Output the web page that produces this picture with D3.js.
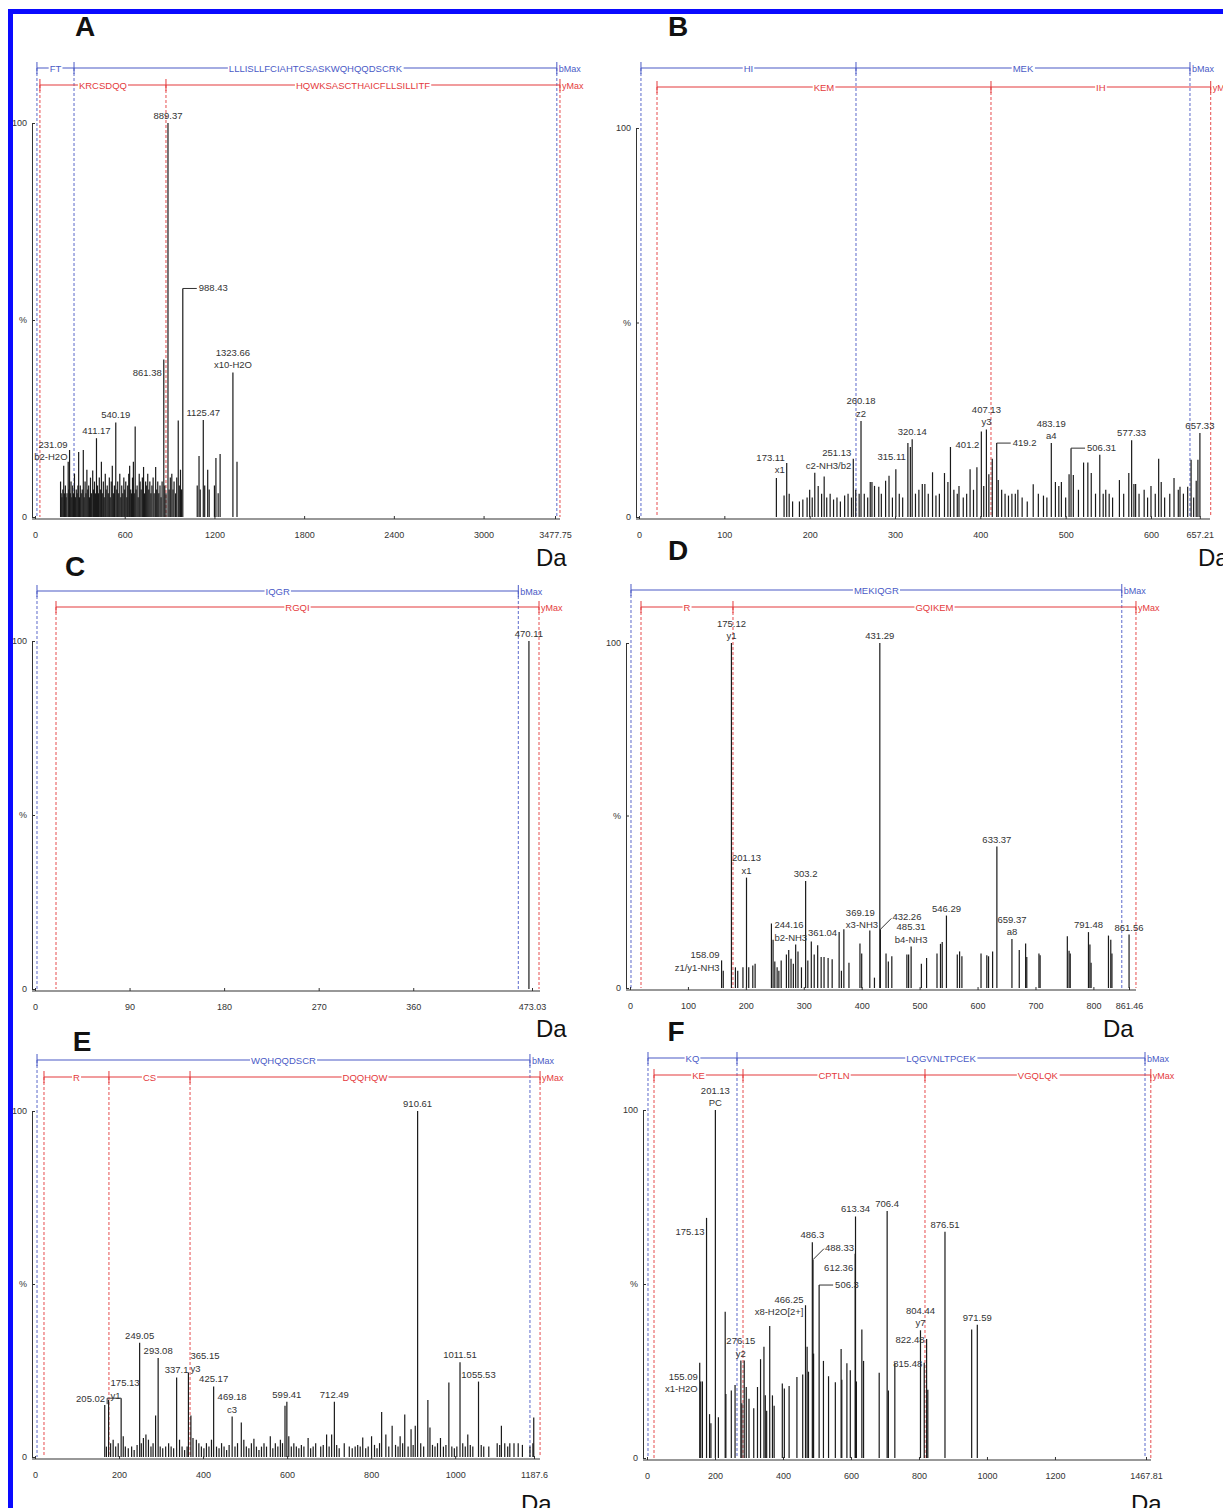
<!DOCTYPE html>
<html>
<head>
<meta charset="utf-8">
<script src="https://cdn.jsdelivr.net/npm/d3@7"></script>
<style>
  body { margin: 0; background: #fff; }
  svg { display: block; font-family: "Liberation Sans", Arial, sans-serif; }
</style>
</head>
<body>
<div id="chart"></div>
<script>
// ---------- data: panel A ----------
const maxA = 3477.75;
const ticksA = [0, 600, 1200, 1800, 2400, 3000, 3477.75];
const bSeqA = [13, 261, 3490];
const bNamesA = ["FT", "LLLISLLFCIAHTCSASKWQHQQDSCRK"];
const ySeqA = [33, 876, 3511];
const yNamesA = ["KRCSDQQ", "HQWKSASCTHAICFLLSILLITF"];
const peaksA = [
  [171,9],[175,6],[180,5],[186,7],[192,13],[197,6],[203,8],[208,5],[214,6],[222,14],[226,7],[231.09,17],
  [236,6],[241,9],[246,5],[252,8],[258,6],[264,11],[270,5],[276,7],[282,6],[287,8],[292,16.5],[297,5],
  [303,8],[309,6],[316,7],[323,17],[329,5],[335,9],[341,6],[347,12],[353,7],[359,8],[365,5],[371,10],
  [377,6],[386,11.8],[392,7],[398,9],[404,6],[411.17,20],[418,8],[424,6],[430,10],[437,7],[444,14],[450,6],
  [457,9],[463,5],[470,11],[476,7],[483,8],[490,6],[497,10],[503,5],[510,9],[517,13],[524,6],[531,8],
  [540.19,24],[547,7],[553,9],[560,6],[567,11],[574,5],[580,8],[587,6],[594,10],[600,7],[607,9],[614,5],
  [620,8],[627,11],[633,13],[640,7],[646,6],[652,10],[658,14],[664,6],[670,23],[676,7],[683,8],[690,5],
  [697,11],[703,9],[710,7],[718,10],[726,12.7],[733,6],[740,9],[747,8],[754,11],[761,7],[768,9],[775,6],
  [782,8],[790,10],[797,6],[807,12.7],[814,7],[821,9],[828,6],[836,8],[843,5],[850,9],[861.38,40],[868,8],
  [876,6],[889.37,100],[897,7],[905,10],[915,11],[923,7],[930,9],[940,6],[948,10],[958,24.5],[965,8],[973,12],
  [980,7],[988.43,58],[1085,8],[1097,15.5],[1105,7],[1125.47,24.6],[1135,8],[1155,12],[1165,7],[1200,8],
  [1210,15],[1225,6],[1238,16],[1323.66,36.7],[1351,14]
];
const annA = [
  { m: 889.37, t: ["889.37"], at: "top" },
  { m: 988.43, t: ["988.43"], at: "leader" },
  { m: 861.38, t: ["861.38"], at: "leftLow" },
  { m: 1323.66, t: ["1323.66", "x10-H2O"], at: "top" },
  { m: 1125.47, t: ["1125.47"], at: "top" },
  { m: 540.19, t: ["540.19"], at: "top" },
  { m: 411.17, t: ["411.17"], at: "top" },
  { m: 231.09, t: ["231.09", "b2-H2O"], at: "left" }
];

// ---------- data: panel B ----------
const maxB = 657.21;
const ticksB = [0, 100, 200, 300, 400, 500, 600, 657.21];
const bSeqB = [2.3, 254.3, 645.7];
const bNamesB = ["HI", "MEK"];
const ySeqB = [21.1, 412.5, 670];
const yNamesB = ["KEM", "IH"];
const peaksB = [
  [161,10],[170,5.5],[173.11,13.9],[176,6],[180,4],[188,4],[192,4.5],[197,5],[200,7],[203,5],[206,11.4],[210,8],
  [214,6],[217,10.4],[220,5],[224,6],[228,4.5],[232,5],[236,4],[241,5.5],[245,6],[249,5],[251.13,15],[254,7],
  [258,6],[260.18,24.7],[264,6],[268,5],[271,9],[273,9],[276,8],[281,7.8],[284,6],[289,9.3],[293,10.6],[297,5],
  [301,12.3],[305,6],[309,5],[315.11,19],[318,18],[320.14,20],[324,6],[328,7],[332,8.5],[335,8.5],[339,6],
  [344,11.5],[348,5.5],[352,6],[358,11.3],[362,9],[365,18],[369,7],[373,6],[375,8],[380,5],[384,6],[388,12.3],
  [392,7],[396,12.8],[401.2,22],[404,8],[407.13,22.5],[410,11],[414,15],[419.2,19],[421,9.5],[425,7],[429,6],
  [433,5.5],[437,6],[441,6],[444,7],[449,5],[455,4],[462,8.4],[468,6],[474,5.5],[478,5],[483.19,19],[488,9],
  [492,8],[495,9],[500,5],[504,11],[506.31,17.7],[509,10.8],[515,7],[521,14],[526,14],[530,11.3],[535,6],
  [540,16],[544,6],[547,7],[551,6],[555,5],[563,9.5],[568,6],[574,11.3],[577.33,19.7],[580,8.5],[582,8.5],
  [586,6],[592,7],[596,5],[600,8],[605,6],[609,15],[612,9],[616,5],[622,6],[627,10],[632,7],[634,7.8],
  [638,6],[643,7.8],[647,14.7],[650,5],[653,9.3],[655,14.7],[657.33,21.6]
];
const annB = [
  { m: 173.11, t: ["173.11", "x1"], at: "left" },
  { m: 251.13, t: ["251.13", "c2-NH3/b2"], at: "left" },
  { m: 260.18, t: ["260.18", "z2"], at: "top" },
  { m: 315.11, t: ["315.11"], at: "leftLow" },
  { m: 320.14, t: ["320.14"], at: "top" },
  { m: 401.2, t: ["401.2"], at: "leftLow" },
  { m: 407.13, t: ["407.13", "y3"], at: "top" },
  { m: 419.2, t: ["419.2"], at: "leader" },
  { m: 483.19, t: ["483.19", "a4"], at: "top" },
  { m: 506.31, t: ["506.31"], at: "leader" },
  { m: 577.33, t: ["577.33"], at: "top" },
  { m: 657.33, t: ["657.33"], at: "top" }
];

// ---------- data: panel C ----------
const maxC = 473.03;
const ticksC = [0, 90, 180, 270, 360, 473.03];
const bSeqC = [1.9, 460];
const bNamesC = ["IQGR"];
const ySeqC = [20, 479.7];
const yNamesC = ["RGQI"];
const peaksC = [[470.11, 100]];
const annC = [{ m: 470.11, t: ["470.11"], at: "top" }];

// ---------- data: panel D ----------
const maxD = 861.46;
const ticksD = [0, 100, 200, 300, 400, 500, 600, 700, 800, 861.46];
const bSeqD = [1.7, 849];
const bNamesD = ["MEKIQGR"];
const ySeqD = [19, 177.8, 873.5];
const yNamesD = ["R", "GQIKEM"];
const peaksD = [
  [158.09,8],[161,5],[175.12,100],[182,6],[186,5],[195,6],[201.13,32],[205,6],[212,6.5],[216,7],[244.16,18.7],
  [247,14],[250,7.7],[254,6],[257,5],[261,8],[270,9.7],[274,11],[278,8.5],[282,7],[286,12.6],[290,10.6],
  [296,6],[303.2,31],[307,8],[313,13.5],[318,9.7],[324,12.4],[330,9],[335,9],[342,8.7],[349,8.3],
  [361.04,16.2],[365,5],[369.19,17],[378,7.3],[397,12.9],[400,10],[414,16.7],[422,3],[431.29,100],
  [432.26,17],[442,10],[446,7.7],[452,9.2],[478,9.7],[481,9.7],[485.31,12],[503,7],[512,8.7],[530,10],
  [536,12.8],[539,13.3],[546.29,21],[565,9.7],[569,10.6],[573,9.2],[606,10],[616,9.5],[619,9.2],[626,10.6],
  [633.37,41],[659.37,14.2],[672,11],[683,12.9],[685,9],[706,10],[708,9.5],[755,15],[758,10.8],[760,10],
  [791.48,16.2],[794,12.6],[796,7.3],[826,15.2],[830,14],[832,10],[861.56,15.5]
];
const annD = [
  { m: 158.09, t: ["158.09", "z1/y1-NH3"], at: "left" },
  { m: 175.12, t: ["175.12", "y1"], at: "top" },
  { m: 201.13, t: ["201.13", "x1"], at: "top" },
  { m: 244.16, t: ["244.16", "b2-NH3"], at: "right" },
  { m: 303.2, t: ["303.2"], at: "top" },
  { m: 361.04, t: ["361.04"], at: "left" },
  { m: 369.19, t: ["369.19", "x3-NH3"], at: "topRight" },
  { m: 431.29, t: ["431.29"], at: "top" },
  { m: 432.26, t: ["432.26"], at: "leaderUp" },
  { m: 485.31, t: ["485.31", "b4-NH3"], at: "top" },
  { m: 546.29, t: ["546.29"], at: "top" },
  { m: 633.37, t: ["633.37"], at: "top" },
  { m: 659.37, t: ["659.37", "a8"], at: "top" },
  { m: 791.48, t: ["791.48"], at: "top" },
  { m: 861.56, t: ["861.56"], at: "top" }
];

// ---------- data: panel E ----------
const maxE = 1187.6;
const ticksE = [0, 200, 400, 600, 800, 1000, 1187.6];
const bSeqE = [4.8, 1178];
const bNamesE = ["WQHQQDSCR"];
const ySeqE = [21.4, 176, 369, 1202];
const yNamesE = ["R", "CS", "DQQHQW"];
const peaksE = [
  [166,15],[170,3],[175.13,16.5],[180,4],[186,5],[192,3],[198,4],[205.02,17],[210,6],[215,3],[222,2.5],[230,3],
  [236,2],[243,3.5],[249.05,33],[253,4],[258,5.5],[264,6.5],[270,5],[276,3],[281,4],[287,12],[293.08,28.6],
  [298,3],[304,2.5],[311,3],[318,4],[324,3],[330,2.5],[337.1,23],[344,5],[350,3],[356,2],[362,3],[365.15,24.4],
  [371,12],[376,5.5],[384,5],[390,4],[396,3],[402,2.5],[408,4],[414,3],[420,5],[425.17,20.4],[432,3],[438,2.5],
  [444,4],[450,3],[456,2],[462,3.5],[469.18,11.7],[476,3],[482,4],[491,10],[497,5],[503,3],[509,2.5],[515,4],
  [521,5.3],[527,3],[533,2],[539,3],[545,4],[551,3],[560,6],[566,2.5],[572,4],[578,3],[584,5],[589,4],
  [595,14.8],[599.41,16],[604,6],[610,3],[616,4],[622,3],[628,2.5],[634,3.5],[640,3],[650,5.5],[656,2.5],
  [662,3],[668,4],[680,3],[686,3.5],[694,6.5],[700,3],[706,6.5],[712.49,16],[718,3.5],[724,2.5],[736,4],
  [748,3],[755,2.5],[762,3],[768,3.5],[774,3],[780,5.6],[787,2.5],[793,3],[801,6],[808,3.5],[814,2.5],
  [820,4],[825,13],[835,6.5],[842,3],[850,9],[858,3.5],[864,3],[869,6],[875,4],[880,12.3],[888,3],[895,8],
  [900,3.5],[905,9],[910.61,100],[918,4],[925,3],[935,16.5],[940,8.5],[946,3.5],[952,3],[958,4],[965,5.5],
  [972,3],[978,3.5],[985,21.5],[992,3],[998,2.5],[1004,3],[1011.51,27.4],[1018,4],[1024,3],[1030,6.5],
  [1036,3.5],[1042,3],[1055.53,21.8],[1062,3.5],[1068,3],[1080,3],[1100,4],[1106,3.5],[1110,9],[1118,4],
  [1125,3],[1130,4],[1140,4],[1150,4],[1160,3.5],[1178,3],[1185,4],[1187,11.4]
];
const annE = [
  { m: 175.13, t: ["175.13", "y1"], at: "topRight" },
  { m: 205.02, t: ["205.02"], at: "leftLeader" },
  { m: 249.05, t: ["249.05"], at: "top" },
  { m: 293.08, t: ["293.08"], at: "top" },
  { m: 337.1, t: ["337.1"], at: "top" },
  { m: 365.15, t: ["365.15", "y3"], at: "topRight" },
  { m: 425.17, t: ["425.17"], at: "top" },
  { m: 469.18, t: ["469.18", "c3"], at: "top" },
  { m: 599.41, t: ["599.41"], at: "top" },
  { m: 712.49, t: ["712.49"], at: "top" },
  { m: 910.61, t: ["910.61"], at: "top" },
  { m: 1011.51, t: ["1011.51"], at: "top" },
  { m: 1055.53, t: ["1055.53"], at: "top" }
];

// ---------- data: panel F ----------
const maxF = 1467.81;
const ticksF = [0, 200, 400, 600, 800, 1000, 1200, 1467.81];
const bSeqF = [2.9, 264.7, 1464.9];
const bNamesF = ["KQ", "LQGVNLTPCEK"];
const ySeqF = [20.6, 282.4, 817.7, 1482];
const yNamesF = ["KE", "CPTLN", "VGQLQK"];
const peaksF = [
  [155.09,27.4],[158,22],[163,22],[175.13,69],[184,12.6],[188,10],[201.13,100],[210,11.7],[230,42],[232,18.4],
  [248,19.4],[259,21],[276.15,28],[279,15.7],[286,28],[292,20.4],[300,17],[314,14.3],[325,20.4],[334,28.4],
  [344,32],[348,18],[352,13.6],[361,37.9],[369,18],[374,15],[398,21.4],[404,20],[418,20.7],[441,23.3],
  [458,24],[466.25,43.9],[471,32],[475,24.8],[486.3,62],[488.33,57],[490,30],[506.3,49.7],[519,27.9],
  [534,23.5],[554,21.8],[571,31.3],[573,22.5],[588,27.2],[598,25.2],[612.36,58.7],[613.34,69.4],[616,22],
  [632,36.9],[637,27.9],[683,24.5],[706.4,71],[710,19.4],[729,27.2],[804.44,36.7],[815.48,27.4],
  [822.48,34.2],[826,19.6],[876.51,65],[955,36.9],[971.59,38.3]
];
const annF = [
  { m: 155.09, t: ["155.09", "x1-H2O"], at: "leftLow" },
  { m: 175.13, t: ["175.13"], at: "leftLow" },
  { m: 201.13, t: ["201.13", "PC"], at: "top" },
  { m: 276.15, t: ["276.15", "y2"], at: "top" },
  { m: 466.25, t: ["466.25", "x8-H2O[2+]"], at: "left" },
  { m: 486.3, t: ["486.3"], at: "top" },
  { m: 488.33, t: ["488.33"], at: "leaderUp" },
  { m: 612.36, t: ["612.36"], at: "leftLow" },
  { m: 506.3, t: ["506.3"], at: "leader" },
  { m: 613.34, t: ["613.34"], at: "top" },
  { m: 706.4, t: ["706.4"], at: "top" },
  { m: 876.51, t: ["876.51"], at: "top" },
  { m: 804.44, t: ["804.44", "y7"], at: "top" },
  { m: 822.48, t: ["822.48"], at: "left" },
  { m: 815.48, t: ["815.48"], at: "left" },
  { m: 971.59, t: ["971.59"], at: "top" }
];

// ---------- layout ----------
const W = 1223, H = 1508;
const blue = "#4a5ac6", red = "#e43a3c", ink = "#333";

const panels = [
  { letter: "A", lp: [85, 36], dap: [536, 566], axX: 32, xr: [35, 555], yr: [517, 123], axEnd: 560, seqY: [68, 85],
    max: maxA, ticks: ticksA, bSeq: bSeqA, bNames: bNamesA, ySeq: ySeqA, yNames: yNamesA, peaks: peaksA, ann: annA },
  { letter: "B", lp: [678, 36], dap: [1198, 566], axX: 636, xr: [639, 1199.8], yr: [517, 128], axEnd: 1210, seqY: [68, 87],
    max: maxB, ticks: ticksB, bSeq: bSeqB, bNames: bNamesB, ySeq: ySeqB, yNames: yNamesB, peaks: peaksB, ann: annB },
  { letter: "C", lp: [75, 576], dap: [536, 1037], axX: 32, xr: [35, 532], yr: [989, 641], axEnd: 540, seqY: [591, 607],
    max: maxC, ticks: ticksC, bSeq: bSeqC, bNames: bNamesC, ySeq: ySeqC, yNames: yNamesC, peaks: peaksC, ann: annC },
  { letter: "D", lp: [678, 560], dap: [1103, 1037], axX: 626, xr: [630, 1129], yr: [988, 643], axEnd: 1136, seqY: [590, 607],
    max: maxD, ticks: ticksD, bSeq: bSeqD, bNames: bNamesD, ySeq: ySeqD, yNames: yNamesD, peaks: peaksD, ann: annD },
  { letter: "E", lp: [82, 1051], dap: [521, 1512], axX: 32, xr: [35, 534], yr: [1457, 1111], axEnd: 540, seqY: [1060, 1077],
    max: maxE, ticks: ticksE, bSeq: bSeqE, bNames: bNamesE, ySeq: ySeqE, yNames: yNamesE, peaks: peaksE, ann: annE },
  { letter: "F", lp: [676, 1041], dap: [1131, 1512], axX: 643, xr: [647, 1146], yr: [1458, 1110], axEnd: 1151, seqY: [1058, 1075],
    max: maxF, ticks: ticksF, bSeq: bSeqF, bNames: bNamesF, ySeq: ySeqF, yNames: yNamesF, peaks: peaksF, ann: annF }
];

const svg = d3.select("#chart").append("svg").attr("width", W).attr("height", H);
svg.append("rect").attr("width", W).attr("height", H).attr("fill", "#fff");

// sequence coverage line with dashed drop lines
function drawSeq(g, x, bounds, names, endLabel, yLine, color, yBase) {
  g.selectAll(null).data(bounds).join("line")
    .attr("x1", d => x(d)).attr("x2", d => x(d))
    .attr("y1", yLine).attr("y2", yBase)
    .attr("stroke", color).attr("stroke-width", 1)
    .attr("stroke-dasharray", "3,2").attr("opacity", 0.9);

  g.append("line")
    .attr("x1", x(bounds[0])).attr("x2", x(bounds[bounds.length - 1]))
    .attr("y1", yLine).attr("y2", yLine)
    .attr("stroke", color).attr("stroke-width", 1.2);

  g.selectAll(null).data(bounds).join("line")
    .attr("x1", d => x(d)).attr("x2", d => x(d))
    .attr("y1", yLine - 6).attr("y2", yLine + 6)
    .attr("stroke", color).attr("stroke-width", 1);

  names.forEach((n, i) => {
    const cx = (x(bounds[i]) + x(bounds[i + 1])) / 2;
    const t = g.append("text")
      .attr("x", cx).attr("y", yLine + 3.5)
      .attr("text-anchor", "middle")
      .attr("font-size", 9.5)
      .attr("fill", color)
      .text(n);
    const bb = t.node().getBBox();
    g.insert("rect", () => t.node())
      .attr("x", bb.x - 1).attr("y", yLine - 2)
      .attr("width", bb.width + 2).attr("height", 4)
      .attr("fill", "#fff");
  });

  g.append("text")
    .attr("x", x(bounds[bounds.length - 1]) + 2).attr("y", yLine + 3.5)
    .attr("font-size", 9).attr("fill", color)
    .text(endLabel);
}

// peak annotations
function drawLabels(g, x, y, ann, peaks) {
  const lh = 12.5;
  ann.forEach(a => {
    const p = peaks.find(q => q[0] === a.m);
    const px = x(a.m), top = y(p[1]);
    const n = a.t.length;
    let tx, ty, anchor = "start";
    if (a.at === "top") { tx = px; anchor = "middle"; ty = top - 4 - (n - 1) * lh; }
    else if (a.at === "topRight") { tx = px + 2; ty = top - 1 - (n - 1) * lh; }
    else if (a.at === "left") { tx = px - 2; anchor = "end"; ty = top + 4 - (n - 1) * lh / 2; }
    else if (a.at === "leftLow") { tx = px - 2; anchor = "end"; ty = top + 17; }
    else if (a.at === "right") { tx = px + 3; ty = top + 5; }
    else if (a.at === "leader") {
      g.append("path").attr("d", `M${px},${top}H${px + 14}`).attr("stroke", ink).attr("fill", "none");
      tx = px + 16; ty = top + 3;
    } else if (a.at === "leaderUp") {
      g.append("path").attr("d", `M${px},${top}L${px + 11},${top - 11}`).attr("stroke", ink).attr("fill", "none");
      tx = px + 12; ty = top - 9;
    } else if (a.at === "leftLeader") {
      g.append("path").attr("d", `M${px},${top}H${px - 14}V${top + 6}`).attr("stroke", ink).attr("fill", "none");
      tx = px - 16; anchor = "end"; ty = top + 4;
    }
    a.t.forEach((s, i) => {
      g.append("text")
        .attr("x", tx).attr("y", ty + i * lh)
        .attr("text-anchor", anchor)
        .attr("font-size", 9.5).attr("fill", ink)
        .text(s);
    });
  });
}

panels.forEach(P => {
  const g = svg.append("g");
  const x = d3.scaleLinear().domain([0, P.max]).range(P.xr);
  const y = d3.scaleLinear().domain([0, 100]).range(P.yr);
  const base = P.yr[0];

  drawSeq(g, x, P.bSeq, P.bNames, "bMax", P.seqY[0], blue, base);
  drawSeq(g, x, P.ySeq, P.yNames, "yMax", P.seqY[1], red, base);

  // peaks
  g.selectAll("line.peak").data(P.peaks).join("line")
    .attr("class", "peak")
    .attr("x1", d => x(d[0])).attr("x2", d => x(d[0]))
    .attr("y1", base).attr("y2", d => y(d[1]))
    .attr("stroke", "#1a1a1a").attr("stroke-width", 1.2);

  // x axis
  const xa = g.append("g")
    .attr("transform", `translate(0,${base + 2})`)
    .call(d3.axisBottom(x).tickValues(P.ticks).tickFormat(d => String(d))
      .tickSizeInner(-3).tickSizeOuter(0).tickPadding(13));
  xa.select(".domain").remove();
  xa.selectAll("line").attr("stroke", ink);
  xa.selectAll("text").attr("font-size", 9).attr("fill", ink)
    .attr("font-family", "Liberation Sans, Arial, sans-serif");
  g.append("line")
    .attr("x1", P.axX).attr("x2", P.axEnd)
    .attr("y1", base + 2).attr("y2", base + 2)
    .attr("stroke", ink).attr("stroke-width", 1.2);

  // y axis (100 / % / 0)
  const ya = g.append("g")
    .attr("transform", `translate(${P.axX},0)`)
    .call(d3.axisLeft(y).tickValues([0, 50, 100])
      .tickFormat(d => d === 50 ? "%" : String(d))
      .tickSizeInner(-3).tickSizeOuter(-3).tickPadding(5));
  ya.selectAll("path, line").attr("stroke", ink);
  ya.selectAll("text").attr("font-size", 9).attr("fill", ink)
    .attr("font-family", "Liberation Sans, Arial, sans-serif");

  drawLabels(g, x, y, P.ann, P.peaks);

  // panel letter and unit
  svg.append("text").attr("x", P.lp[0]).attr("y", P.lp[1])
    .attr("text-anchor", "middle").attr("font-size", 28).attr("font-weight", "bold")
    .attr("fill", "#111").text(P.letter);
  svg.append("text").attr("x", P.dap[0]).attr("y", P.dap[1])
    .attr("font-size", 24).attr("fill", "#111").text("Da");
});

// blue frame
svg.append("rect").attr("x", 8).attr("y", 9).attr("width", W - 8).attr("height", 5).attr("fill", "#0a0aff");
svg.append("rect").attr("x", 8).attr("y", 9).attr("width", 5).attr("height", H - 9).attr("fill", "#0a0aff");
</script>
</body>
</html>
